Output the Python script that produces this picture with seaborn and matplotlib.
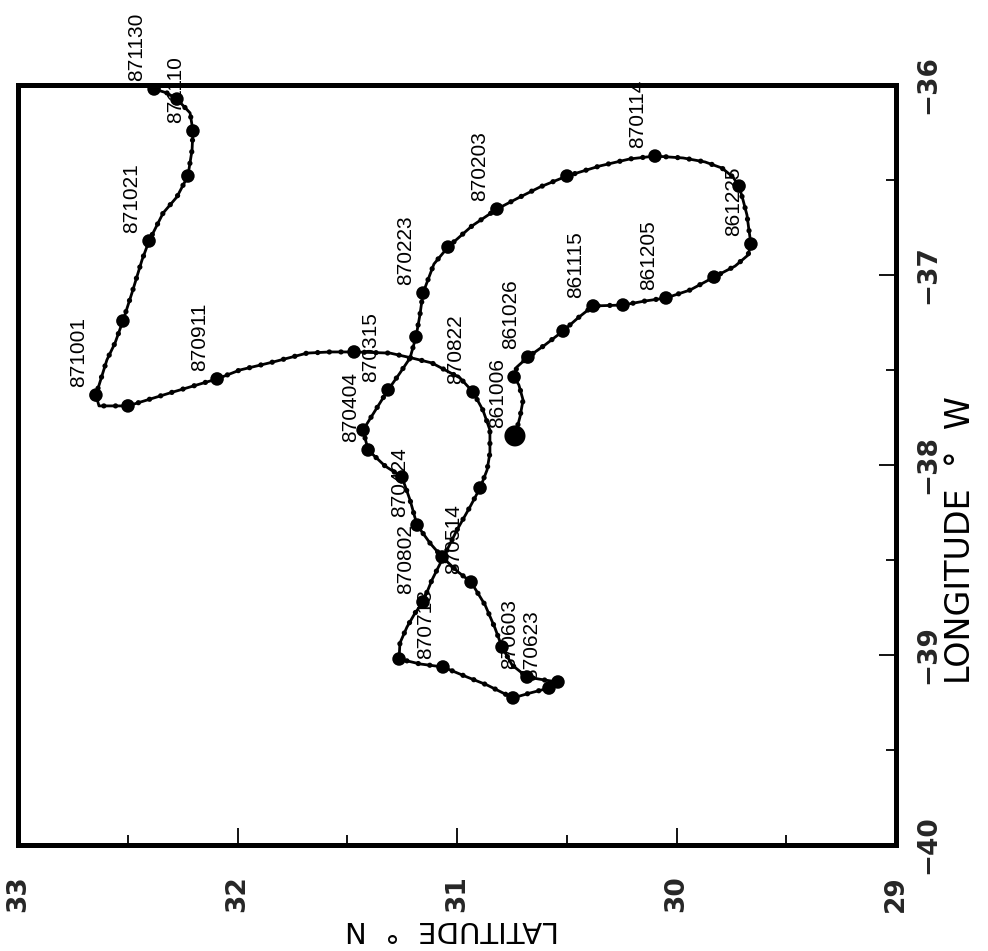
import matplotlib
matplotlib.use("Agg")
import matplotlib.pyplot as plt
from matplotlib.ticker import MultipleLocator
import seaborn as sns
import pandas as pd

# 10-day float fixes (yymmdd), latitude (deg N) and longitude (deg, west negative)
fix_dates = [
    "861006", "861016", "861026", "861105", "861115", "861125", "861205",
    "861215", "861225", "870104", "870114", "870124", "870203", "870213",
    "870223", "870305", "870315", "870325", "870404", "870414", "870424",
    "870504", "870514", "870524", "870603", "870613", "870623", "870703",
    "870713", "870723", "870802", "870812", "870822", "870901", "870911",
    "870921", "871001", "871011", "871021", "871031", "871110", "871120",
    "871130",
]
fix_lat = [
    30.736, 30.740, 30.677, 30.517, 30.380, 30.244, 30.048,
    29.829, 29.661, 29.715, 30.098, 30.499, 30.818, 31.041,
    31.155, 31.187, 31.314, 31.428, 31.405, 31.251, 31.182,
    31.068, 30.936, 30.795, 30.681, 30.540, 30.581, 30.745,
    31.064, 31.264, 31.155, 30.895, 30.927, 31.469, 32.093,
    32.499, 32.645, 32.522, 32.403, 32.226, 32.203, 32.276,
    32.380,
]
fix_lon = [
    -37.847, -37.537, -37.432, -37.295, -37.163, -37.158, -37.121,
    -37.011, -36.837, -36.532, -36.374, -36.479, -36.653, -36.853,
    -37.095, -37.326, -37.605, -37.816, -37.921, -38.063, -38.316,
    -38.484, -38.616, -38.958, -39.116, -39.142, -39.174, -39.226,
    -39.063, -39.021, -38.721, -38.121, -37.616, -37.405, -37.547,
    -37.689, -37.632, -37.242, -36.821, -36.479, -36.242, -36.074,
    -36.021,
]

# Full drift track, in time order
track_lat = [
    30.736, 30.713, 30.699, 30.718, 30.740, 30.727, 30.677, 30.599, 30.517,
    30.449, 30.380, 30.244, 30.144, 30.048, 29.938, 29.829, 29.733, 29.674,
    29.661, 29.670, 29.679, 29.697, 29.715, 29.743, 29.793, 29.870, 29.970,
    30.098, 30.212, 30.349, 30.499, 30.622, 30.722, 30.818, 30.932, 31.041,
    31.105, 31.155, 31.169, 31.187, 31.214, 31.260, 31.314, 31.374, 31.428,
    31.405, 31.328, 31.251, 31.214, 31.182, 31.123, 31.068, 30.995, 30.936,
    30.872, 30.827, 30.795, 30.749, 30.681, 30.599, 30.540, 30.581, 30.667,
    30.745, 30.863, 30.954, 31.064, 31.169, 31.264, 31.260, 31.228, 31.191,
    31.155, 31.114, 31.000, 30.941, 30.895, 30.863, 30.850, 30.850, 30.882,
    30.927, 30.986, 31.114, 31.205, 31.305, 31.469, 31.579, 31.683, 31.838,
    31.989, 32.093, 32.294, 32.499, 32.631, 32.645, 32.595, 32.558, 32.522,
    32.481, 32.435, 32.403, 32.339, 32.276, 32.226, 32.207, 32.203, 32.216,
    32.276, 32.321, 32.380,
]
track_lon = [
    -37.847, -37.747, -37.658, -37.579, -37.537, -37.484, -37.432, -37.368, -37.295,
    -37.226, -37.163, -37.158, -37.137, -37.121, -37.079, -37.011, -36.953, -36.895,
    -36.837, -36.763, -36.684, -36.605, -36.532, -36.484, -36.437, -36.405, -36.384,
    -36.374, -36.389, -36.426, -36.479, -36.537, -36.595, -36.653, -36.742, -36.853,
    -36.942, -37.095, -37.211, -37.326, -37.437, -37.516, -37.605, -37.716, -37.816,
    -37.921, -38.005, -38.063, -38.184, -38.316, -38.411, -38.484, -38.563, -38.616,
    -38.737, -38.858, -38.958, -39.053, -39.116, -39.132, -39.142, -39.174, -39.200,
    -39.226, -39.158, -39.116, -39.063, -39.047, -39.021, -38.937, -38.853, -38.779,
    -38.721, -38.605, -38.342, -38.221, -38.121, -38.026, -37.937, -37.816, -37.711,
    -37.616, -37.542, -37.463, -37.437, -37.411, -37.405, -37.405, -37.411, -37.458,
    -37.500, -37.547, -37.616, -37.689, -37.689, -37.632, -37.447, -37.358, -37.242,
    -37.095, -36.921, -36.821, -36.674, -36.589, -36.479, -36.342, -36.242, -36.147,
    -36.074, -36.042, -36.021,
]

lat_ticks = [33, 32, 31, 30, 29]
lon_ticks = [-40, -39, -38, -37, -36]

sns.set_theme(style="white")
plt.rcParams["font.family"] = ["DejaVu Sans"]

fig = plt.figure(figsize=(9.88, 9.51), dpi=100)
ax = fig.add_axes([18 / 988, 1 - 845 / 951, 878 / 988, 760 / 951])

track = pd.DataFrame({"lat": track_lat, "lon": track_lon})
fixes = pd.DataFrame({"date": fix_dates, "lat": fix_lat, "lon": fix_lon})

# drift path with daily beads
sns.lineplot(data=track, x="lat", y="lon", sort=False, estimator=None,
             color="black", linewidth=2.0, ax=ax)
ax.plot(track["lat"], track["lon"], color="black", linewidth=3.8,
        linestyle=(0, (0.01, 2.2)), dash_capstyle="round")

# 10-day fixes and launch position
sns.scatterplot(data=fixes, x="lat", y="lon", s=95, color="black",
                edgecolor="none", ax=ax, zorder=4)
sns.scatterplot(data=fixes.iloc[:1], x="lat", y="lon", s=230, color="black",
                edgecolor="none", ax=ax, zorder=4)

# date labels every 20 days
for i in range(0, len(fixes), 2):
    ax.annotate(fixes["date"][i], (fixes["lat"][i], fixes["lon"][i]),
                xytext=(-5.5, 5.5), textcoords="offset points",
                rotation=90, ha="right", va="bottom", fontsize=15,
                family=["Liberation Sans", "DejaVu Sans"], color="black",
                zorder=5)

ax.set_xlim(33, 29)
ax.set_ylim(-40, -36)
ax.set_xticks(lat_ticks)
ax.set_xticklabels([str(t) for t in lat_ticks])
ax.set_yticks(lon_ticks)
ax.set_yticklabels(["\u2212" + str(abs(t)) for t in lon_ticks])
ax.xaxis.set_minor_locator(MultipleLocator(0.5))
ax.yaxis.set_minor_locator(MultipleLocator(0.5))
ax.yaxis.tick_right()
ax.set_xlabel("")
ax.set_ylabel("")

for side in ax.spines.values():
    side.set_visible(True)
    side.set_color("black")
    side.set_linewidth(3.6)

ax.tick_params(which="both", direction="in", color="black", width=1.3,
               bottom=True, right=True, top=False, left=False)
ax.tick_params(which="major", length=12)
ax.tick_params(which="minor", length=7)
ax.tick_params(axis="x", which="major", pad=22, labelsize=19)
ax.tick_params(axis="y", which="major", pad=14, labelsize=19)
for lbl in ax.get_xticklabels():
    lbl.set_rotation(90)
    lbl.set_fontweight("bold")
    lbl.set_ha("center")
    lbl.set_va("top")
for lbl in ax.get_yticklabels():
    lbl.set_rotation(90)
    lbl.set_fontweight("bold")
    lbl.set_va("center")
    lbl.set_ha("left")

fig.text(960 / 988, 1 - 540 / 951, "LONGITUDE  \u00b0  W", rotation=90,
         ha="center", va="center", fontsize=24, color="black")
fig.text(452 / 988, 1 - 929 / 951, "LATITUDE  \u00b0  N", rotation=180,
         ha="center", va="center", fontsize=21, color="black")

fig.savefig("out.png", dpi=100, facecolor="white")
